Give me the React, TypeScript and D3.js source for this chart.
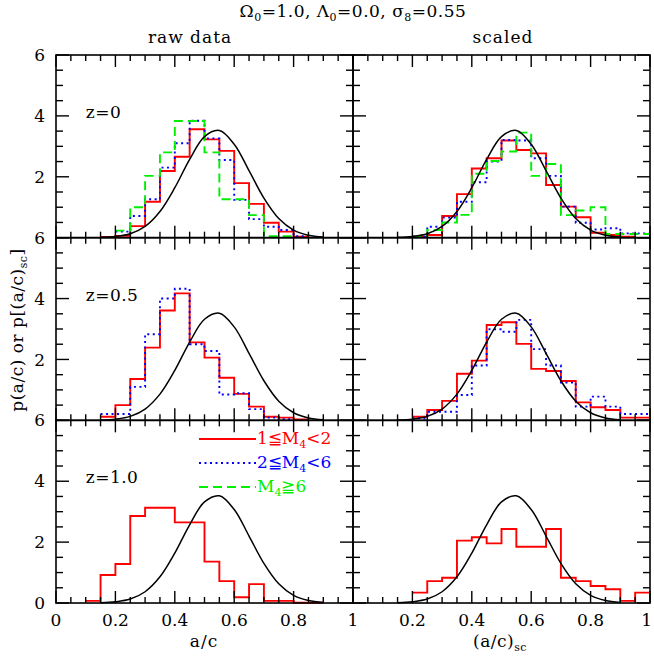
import React, { useEffect, useRef } from 'react';
import * as d3 from 'd3';

// bin width of every histogram
const BIN = 0.05;

// z=0, raw data
const z0RawRedStart = 0.15;
const z0RawRed = [0.02, 0.06, 0.38, 1.18, 2.19, 2.66, 3.56, 3.23, 2.85, 1.79, 1.11, 0.49, 0.2, 0.03];
const z0RawBlueStart = 0.2;
const z0RawBlue = [0.2, 0.71, 1.26, 2.3, 3.1, 3.84, 3.26, 2.55, 1.24, 0.61, 0.36, 0.25, 0.05];
const z0RawGreenStart = 0.2;
const z0RawGreen = [0.23, 1.0, 2.03, 2.8, 3.83, 3.83, 2.8, 1.26, 1.26, 0.74, 0.05, 0.05];

// z=0, scaled
const z0ScRedStart = 0.2;
const z0ScRed = [0.03, 0.09, 0.71, 1.43, 2.27, 2.61, 3.19, 2.88, 2.77, 1.73, 1.02, 0.67, 0.16, 0.09, 0.03];
const z0ScBlueStart = 0.2;
const z0ScBlue = [0.03, 0.36, 0.66, 1.18, 1.82, 2.5, 3.21, 3.19, 2.61, 2.03, 1.02, 0.49, 0.27, 0.31, 0.14, 0.14];
const z0ScGreenStart = 0.2;
const z0ScGreen = [0.03, 0.25, 0.5, 0.75, 2.1, 2.52, 2.83, 3.45, 2.03, 2.42, 0.74, 0.89, 1.0, 0.12, 0.12, 0.12];

// z=0.5
const z05RawRedStart = 0.15;
const z05RawRed = [0.12, 0.5, 1.36, 2.39, 3.61, 4.17, 2.56, 2.06, 1.4, 0.87, 0.45, 0.12, 0.09, 0.03];
const z05RawBlueStart = 0.15;
const z05RawBlue = [0.21, 0.21, 1.1, 2.83, 4.0, 4.32, 2.5, 2.28, 0.85, 0.89, 0.37, 0.09, 0.04];
const z05ScRedStart = 0.2;
const z05ScRed = [0.12, 0.34, 0.64, 1.53, 1.96, 3.13, 3.22, 2.51, 1.69, 1.62, 1.29, 0.59, 0.43, 0.34, 0.09, 0.09];
const z05ScBlueStart = 0.2;
const z05ScBlue = [0.07, 0.28, 0.28, 0.83, 1.8, 2.99, 2.91, 3.3, 2.34, 1.8, 1.24, 0.45, 0.78, 0.45, 0.21, 0.21];

// z=1.0 (only the low-mass sample)
const z1RawRedStart = 0.1;
const z1RawRed = [0.07, 0.92, 1.28, 2.86, 3.13, 3.13, 2.65, 2.65, 1.36, 0.72, 0.19, 0.62, 0.07, 0.07, 0.01, 0.01];
const z1ScRedStart = 0.2;
const z1ScRed = [0.34, 0.72, 0.83, 2.05, 2.16, 1.96, 2.43, 1.85, 1.85, 2.43, 0.83, 0.72, 0.56, 0.45, 0.07, 0.34];

// gaussian reference curve
const gaussX = [0.15, 0.2, 0.25, 0.3, 0.35, 0.4, 0.45, 0.5, 0.55, 0.6, 0.65, 0.7, 0.75, 0.8, 0.85, 0.9];
const gaussY = [0.01, 0.04, 0.13, 0.37, 0.86, 1.64, 2.57, 3.32, 3.52, 3.07, 2.2, 1.3, 0.63, 0.25, 0.08, 0.02];

const rowLabels = ['z=0', 'z=0.5', 'z=1.0'];
const xTickLabelsRaw = ['0', '0.2', '0.4', '0.6', '0.8', '1'];
const xTickLabelsSc = ['0.2', '0.4', '0.6', '0.8', '1'];
const yTickLabels = ['2', '4', '6'];

const RED = '#ff0000';
const BLUE = '#0000ff';
const GREEN = '#00ee00';
const FONT = 'DejaVu Serif';

type Series = { start: number; values: number[]; color: string; dash: string | null };

const s = (start: number, values: number[], color: string, dash: string | null): Series => ({ start, values, color, dash });
const DOT = '2,3.5';
const DASH = '9,5';

const panels: { row: number; col: number; series: Series[] }[] = [
  { row: 0, col: 0, series: [s(z0RawRedStart, z0RawRed, RED, null), s(z0RawBlueStart, z0RawBlue, BLUE, DOT), s(z0RawGreenStart, z0RawGreen, GREEN, DASH)] },
  { row: 0, col: 1, series: [s(z0ScRedStart, z0ScRed, RED, null), s(z0ScBlueStart, z0ScBlue, BLUE, DOT), s(z0ScGreenStart, z0ScGreen, GREEN, DASH)] },
  { row: 1, col: 0, series: [s(z05RawRedStart, z05RawRed, RED, null), s(z05RawBlueStart, z05RawBlue, BLUE, DOT)] },
  { row: 1, col: 1, series: [s(z05ScRedStart, z05ScRed, RED, null), s(z05ScBlueStart, z05ScBlue, BLUE, DOT)] },
  { row: 2, col: 0, series: [s(z1RawRedStart, z1RawRed, RED, null)] },
  { row: 2, col: 1, series: [s(z1ScRedStart, z1ScRed, RED, null)] },
];

// text with subscripts: parts of [text, isSub]
const rich = (sel: any, parts: [string, boolean][]) => {
  let wasSub = false;
  parts.forEach(([t, sub]) => {
    const ts = sel.append('tspan').text(t);
    if (sub && !wasSub) ts.attr('dy', 4).style('font-size', '11px');
    else if (sub) ts.style('font-size', '11px');
    else if (wasSub) ts.attr('dy', -4);
    wasSub = sub;
  });
};

const App = () => {
  const svgRef = useRef<SVGSVGElement>(null);

  useEffect(() => {
    const W = 654;
    const H = 660;
    const left = 56;
    const top = 55;
    const colW = 297;
    const rowH = 182.67;

    const svg = d3.select(svgRef.current).attr('width', W).attr('height', H);
    svg.selectAll('*').remove();
    svg.append('rect').attr('width', W).attr('height', H).attr('fill', 'white');

    panels.forEach((p) => {
      const x0 = left + p.col * colW;
      const y0 = top + p.row * rowH;
      const x = d3.scaleLinear().domain([0, 1]).range([x0, x0 + colW]);
      const y = d3.scaleLinear().domain([0, 6]).range([y0 + rowH, y0]);
      const g = svg.append('g');

      // histograms
      p.series.forEach((sr) => {
        const pts: [number, number][] = sr.values.map((v, i) => [sr.start + i * BIN, v]);
        pts.push([sr.start + sr.values.length * BIN, sr.values[sr.values.length - 1]]);
        const line = d3
          .line<[number, number]>()
          .x((d) => x(d[0]))
          .y((d) => y(d[1]))
          .curve(d3.curveStepAfter);
        g.append('path')
          .attr('d', line(pts))
          .attr('fill', 'none')
          .attr('stroke', sr.color)
          .attr('stroke-width', 1.9)
          .attr('stroke-dasharray', sr.dash);
      });

      // gaussian
      const gl = d3
        .line<number>()
        .x((d) => x(d))
        .y((d, i) => y(gaussY[i]))
        .curve(d3.curveCatmullRom);
      g.append('path').attr('d', gl(gaussX)).attr('fill', 'none').attr('stroke', 'black').attr('stroke-width', 1.5);

      // ticks on all four sides
      d3.range(0, 21).forEach((i) => {
        const len = i % 4 === 0 ? 12 : 6;
        const xv = x(i * BIN);
        g.append('line').attr('x1', xv).attr('x2', xv).attr('y1', y0 + rowH).attr('y2', y0 + rowH - len);
        g.append('line').attr('x1', xv).attr('x2', xv).attr('y1', y0).attr('y2', y0 + len);
      });
      d3.range(0, 13).forEach((i) => {
        const len = i % 4 === 0 ? 13 : 7;
        const yv = y(i * 0.5);
        g.append('line').attr('x1', x0).attr('x2', x0 + len).attr('y1', yv).attr('y2', yv);
        g.append('line').attr('x1', x0 + colW).attr('x2', x0 + colW - len).attr('y1', yv).attr('y2', yv);
      });
      g.selectAll('line').attr('stroke', 'black').attr('stroke-width', 1.4);

      g.append('rect')
        .attr('x', x0)
        .attr('y', y0)
        .attr('width', colW)
        .attr('height', rowH)
        .attr('fill', 'none')
        .attr('stroke', 'black')
        .attr('stroke-width', 1.6);

      if (p.col === 0) {
        g.append('text')
          .attr('x', x(0.1))
          .attr('y', y0 + 63)
          .style('font-family', FONT)
          .style('font-size', '17px')
          .style('letter-spacing', '0.5px')
          .text(rowLabels[p.row]);

        const labels = p.row === 2 ? ['0', ...yTickLabels] : yTickLabels;
        labels.forEach((t) => {
          g.append('text')
            .attr('x', 45)
            .attr('y', y(+t))
            .attr('dy', '0.36em')
            .attr('text-anchor', 'end')
            .style('font-family', FONT)
            .style('font-size', '17px')
            .text(t);
        });
      }

      if (p.row === 2) {
        const labs = p.col === 0 ? xTickLabelsRaw : xTickLabelsSc;
        labs.forEach((t) => {
          // keep the last label inside the page edge
          const edge = p.col === 1 && t === '1';
          g.append('text')
            .attr('x', edge ? W - 2 : x(+t))
            .attr('y', 626)
            .attr('text-anchor', edge ? 'end' : 'middle')
            .style('font-family', FONT)
            .style('font-size', '17px')
            .text(t);
        });
      }
    });

    // legend in the bottom-left panel
    const legend = [
      { color: RED, dash: null, parts: [['1≦M', false], ['4', true], ['<2', false]] },
      { color: BLUE, dash: DOT, parts: [['2≦M', false], ['4', true], ['<6', false]] },
      { color: GREEN, dash: DASH, parts: [['M', false], ['4', true], ['≧6', false]] },
    ];
    legend.forEach((d, i) => {
      const ly = 439 + i * 24;
      svg.append('line')
        .attr('x1', 199).attr('x2', 256).attr('y1', ly).attr('y2', ly)
        .attr('stroke', d.color).attr('stroke-width', 1.8).attr('stroke-dasharray', d.dash);
      const t = svg.append('text')
        .attr('x', 257).attr('y', ly + 5)
        .attr('fill', d.color)
        .style('font-family', FONT).style('font-size', '17px');
      rich(t, d.parts as [string, boolean][]);
    });

    // titles
    const title = svg.append('text')
      .attr('x', 353).attr('y', 17).attr('text-anchor', 'middle')
      .style('font-family', FONT).style('font-size', '17px').style('letter-spacing', '0.5px');
    rich(title, [['Ω', false], ['0', true], ['=1.0,  Λ', false], ['0', true], ['=0.0,  σ', false], ['8', true], ['=0.55', false]]);

    svg.append('text').attr('x', 190).attr('y', 43).attr('text-anchor', 'middle')
      .style('font-family', FONT).style('font-size', '17px').style('letter-spacing', '1px').text('raw data');
    svg.append('text').attr('x', 503).attr('y', 43).attr('text-anchor', 'middle')
      .style('font-family', FONT).style('font-size', '17px').style('letter-spacing', '1px').text('scaled');

    svg.append('text').attr('x', 204).attr('y', 647).attr('text-anchor', 'middle')
      .style('font-family', FONT).style('font-size', '17px').style('letter-spacing', '1px').text('a/c');
    const xl = svg.append('text').attr('x', 500).attr('y', 647).attr('text-anchor', 'middle')
      .style('font-family', FONT).style('font-size', '17px').style('letter-spacing', '0.5px');
    rich(xl, [['(a/c)', false], ['sc', true]]);

    const yl = svg.append('text')
      .attr('transform', 'translate(23,330) rotate(-90)')
      .attr('text-anchor', 'middle')
      .style('font-family', FONT).style('font-size', '17px').style('letter-spacing', '0.5px');
    rich(yl, [['p(a/c) or p[(a/c)', false], ['sc', true], [']', false]]);
  }, []);

  return (
    <div style={{ position: 'absolute', left: 0, top: 0 }}>
      <svg ref={svgRef}></svg>
    </div>
  );
};

export default App;
